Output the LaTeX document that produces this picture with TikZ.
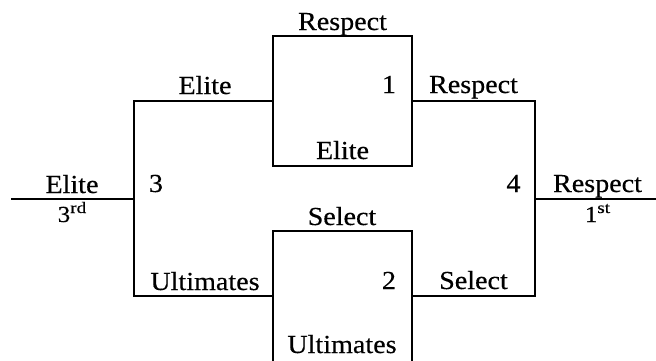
\documentclass[tikz,border=0pt]{standalone}
\usepackage{fontspec}
\setmainfont{Liberation Serif}[FakeStretch=1.08,FakeBold=0.4]
\newcommand{\supx}[1]{\raisebox{9pt}{\fontsize{16}{16}\selectfont\addfontfeatures{FakeStretch=1.2}#1}}
\begin{document}
\begin{tikzpicture}[x=1pt,y=-1pt,
  bline/.style={line width=2pt,line join=miter},
  lbl/.style={anchor=base,inner sep=0pt,font=\fontsize{26}{30}\selectfont},
  ordl/.style={lbl,font=\fontsize{23}{28}\selectfont}]
\useasboundingbox (0,0) rectangle (656,360);
% coordinates
\coordinate (l0) at (11,199);
\coordinate (l1) at (134,199);
\coordinate (t3) at (134,101);
\coordinate (b3) at (134,296);
\coordinate (a1) at (273,101);
\coordinate (a2) at (273,296);
\coordinate (r1) at (412,101);
\coordinate (r2) at (412,296);
\coordinate (t4) at (535,101);
\coordinate (b4) at (535,296);
\coordinate (m4) at (535,199);
\coordinate (e4) at (656,199);
\coordinate (x1a) at (273,36);
\coordinate (x1b) at (412,166);
\coordinate (x2a) at (273,362);
\coordinate (x2b) at (273,231);
\coordinate (x2c) at (412,231);
\coordinate (x2d) at (412,362);
% lines
\draw[bline] (l0) -- (l1);
\draw[bline] (a1) -- (t3) -- (b3) -- (a2);
\draw[bline] (x1a) rectangle (x1b);
\draw[bline] (x2a) -- (x2b) -- (x2c) -- (x2d);
\draw[bline] (r1) -- (t4) -- (b4) -- (r2);
\draw[bline] (m4) -- (e4);
% labels
\node[lbl] (n1) at (342.5,30) {Respect};
\node[lbl] (n2) at (205,94) {Elite};
\node[lbl] (n3) at (342.5,159) {Elite};
\node[lbl] (n4) at (389,93) {1};
\node[lbl] (n5) at (473.5,93) {Respect};
\node[lbl] (n6) at (72,193) {Elite};
\node[ordl] (n7) at (72,222) {3\supx{rd}};
\node[lbl] (n8) at (156,192) {3};
\node[lbl] (n9) at (513.5,192) {4};
\node[lbl] (n10) at (597.5,192) {Respect};
\node[ordl] (n11) at (597.5,222) {1\supx{st}};
\node[lbl] (n12) at (342,225) {Select};
\node[lbl] (n13) at (389,289) {2};
\node[lbl] (n14) at (473.5,289) {Select};
\node[lbl] (n15) at (205,290) {Ultimates};
\node[lbl] (n16) at (342,353) {Ultimates};
\end{tikzpicture}
\end{document}
